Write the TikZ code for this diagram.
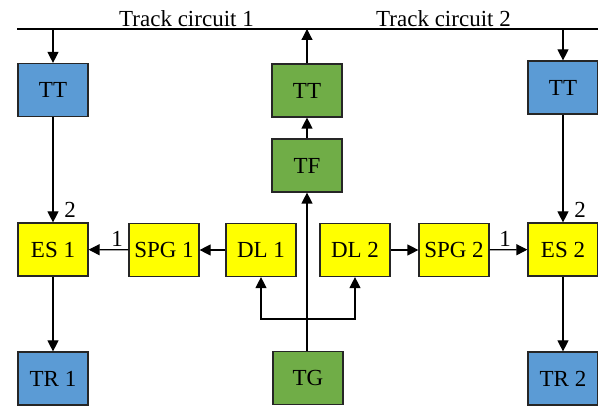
\documentclass[tikz,border=0pt]{standalone}
\usepackage{fontspec}
\setmainfont{Liberation Serif}
\usetikzlibrary{arrows.meta}
\definecolor{boxblue}{HTML}{5B9BD5}
\definecolor{boxgreen}{HTML}{70AD47}
\definecolor{boxyellow}{HTML}{FFFF00}
\begin{document}
\begin{tikzpicture}[x=1pt,y=-1pt,
  blk/.style={draw=black!85, line width=1.2pt, minimum width=70pt, minimum height=53pt, inner sep=0pt, font=\fontsize{23}{27}\selectfont},
  bluebox/.style={blk, fill=boxblue},
  greenbox/.style={blk, fill=boxgreen},
  yellowbox/.style={blk, fill=boxyellow},
  conn/.style={line width=1.2pt, -{Triangle[length=11pt,width=11pt]}},
  wire/.style={line width=1.2pt},
  lbl/.style={font=\fontsize{23}{27}\selectfont, inner sep=0pt, anchor=base}]
\useasboundingbox (0,0) rectangle (598,406);
% track line
\coordinate (L0) at (17,29);
\coordinate (L1) at (598,29);
\draw[wire] (L0) -- (L1);
\node[lbl] (tc1) at (186.5,27) {Track circuit 1};
\node[lbl] (tc2) at (443.5,27) {Track circuit 2};
\coordinate (tapL) at (53,29);
\coordinate (tapM) at (307,29);
\coordinate (tapR) at (563,29);
% nodes
\node[bluebox] (TTL) at (53,90) {TT};
\node[greenbox] (TTM) at (307,90.5) {TT};
\node[bluebox] (TTR) at (563,87.5) {TT};
\node[greenbox] (TF) at (307,165.5) {TF};
\node[yellowbox] (ES1) at (53,249.5) {ES 1};
\node[yellowbox] (SPG1) at (164,250) {SPG 1};
\node[yellowbox] (DL1) at (261,250) {DL 1};
\node[yellowbox] (DL2) at (355,250) {DL 2};
\node[yellowbox] (SPG2) at (454,250) {SPG 2};
\node[yellowbox] (ES2) at (563,249.5) {ES 2};
\node[bluebox] (TR1) at (53,378.5) {TR 1};
\node[greenbox] (TG) at (308,378) {TG};
\node[bluebox] (TR2) at (563,378.5) {TR 2};
% connectors
\draw[conn] (tapL) -- (TTL.north);
\draw[conn] (tapR) -- (TTR.north);
\draw[conn] (TTM.north) -- (tapM);
\draw[conn] (TF) -- (TTM);
\draw[conn] (TG.north -| TF.south) -- (TF.south);
\draw[conn] (TTL) -- (ES1);
\draw[conn] (TTR) -- (ES2);
\draw[conn] (ES1) -- (TR1);
\draw[conn] (ES2) -- (TR2);
\draw[conn] (SPG1) -- (ES1);
\draw[conn] (DL1) -- (SPG1);
\draw[conn] (DL2) -- (SPG2);
\draw[conn] (SPG2) -- (ES2);
\coordinate (br) at (307,319);
\draw[conn] (br) -| (DL1.south);
\draw[conn] (br) -| (DL2.south);
% labels
\node[lbl] (n2L) at (70,218) {2};
\node[lbl] (n1L) at (117,247) {1};
\node[lbl] (n1R) at (505,247) {1};
\node[lbl] (n2R) at (580,218) {2};
\end{tikzpicture}
\end{document}
